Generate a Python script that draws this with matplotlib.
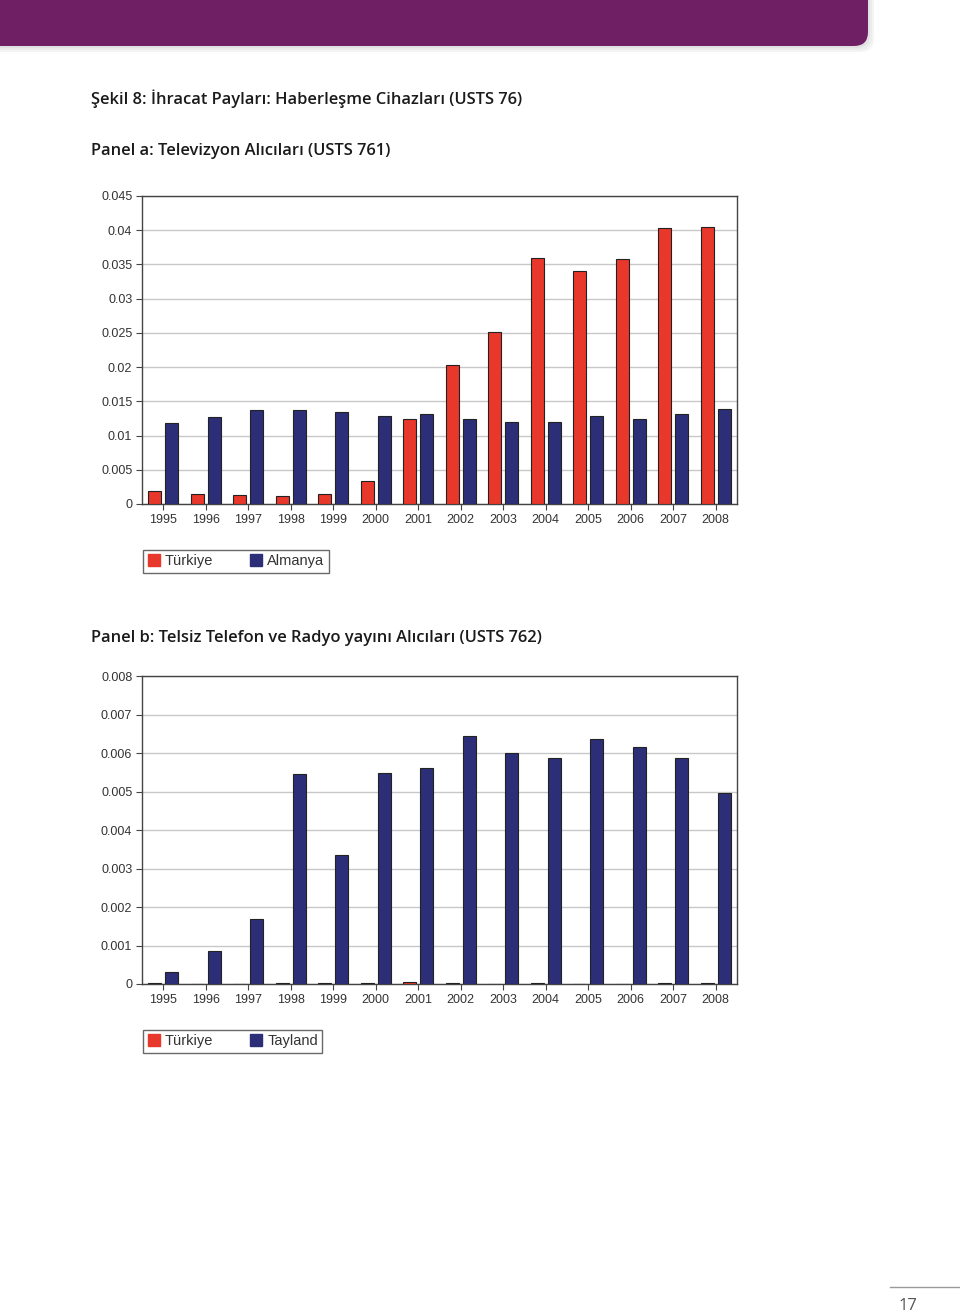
import matplotlib.pyplot as plt
import numpy as np
from matplotlib.patches import FancyBboxPatch
from matplotlib.lines import Line2D

years = ['1995', '1996', '1997', '1998', '1999', '2000', '2001',
         '2002', '2003', '2004', '2005', '2006', '2007', '2008']

# Panel a: Televizyon Alıcıları
turkiye_a = [0.0019, 0.0015, 0.0013, 0.0011, 0.0015, 0.0033, 0.0124,
             0.0203, 0.0252, 0.0360, 0.0340, 0.0358, 0.0403, 0.0404]
almanya_a = [0.0118, 0.0127, 0.0137, 0.0137, 0.0134, 0.0129, 0.0132,
             0.0124, 0.0120, 0.0120, 0.0129, 0.0124, 0.0132, 0.0139]

# Panel b: Telsiz Telefon ve Radyo yayını Alıcıları
turkiye_b = [0.00002, 0.0, 0.0, 0.00002, 0.00002, 0.00002, 0.00006,
             0.00003, 0.0, 0.00003, 0.0, 0.0, 0.00003, 0.00003]
tayland_b = [0.0003, 0.00087, 0.0017, 0.00545, 0.00335, 0.00548, 0.00561,
             0.00645, 0.0060, 0.00588, 0.00636, 0.00615, 0.00586, 0.00495]

ticks_a = [0, 0.005, 0.01, 0.015, 0.02, 0.025, 0.03, 0.035, 0.04, 0.045]
ticklabels_a = ['0', '0.005', '0.01', '0.015', '0.02', '0.025', '0.03', '0.035', '0.04', '0.045']
ticks_b = [0, 0.001, 0.002, 0.003, 0.004, 0.005, 0.006, 0.007, 0.008]
ticklabels_b = ['0', '0.001', '0.002', '0.003', '0.004', '0.005', '0.006', '0.007', '0.008']

RED = '#e8372b'
BLUE = '#2c2f78'
W, H = 960, 1316

fig = plt.figure(figsize=(9.6, 13.16), dpi=100)

# purple banner at the top, with a soft shadow
for i, c in enumerate(['#f4f4f4', '#ececec', '#e2e2e2']):
    off = 6 - 2 * i
    fig.patches.append(FancyBboxPatch((-30, H - 46 - off), 898 + off, 80,
                                      boxstyle='round,pad=0,rounding_size=14', transform=None,
                                      facecolor=c, edgecolor='none', zorder=0))
fig.patches.append(FancyBboxPatch((-30, H - 46), 898, 80, boxstyle='round,pad=0,rounding_size=14',
                                  transform=None, facecolor='#6f1f63', edgecolor='none', zorder=1))

head = dict(family=['Open Sans', 'DejaVu Sans'], fontweight='semibold', fontsize=11.9,
            color='#1a1a1a', va='center', ha='left')
fig.text(91 / W, 1 - 99 / H, 'Şekil 8: İhracat Payları: Haberleşme Cihazları (USTS 76)', **head)
fig.text(91 / W, 1 - 151 / H, 'Panel a: Televizyon Alıcıları (USTS 761)', **head)
fig.text(91 / W, 1 - 638 / H, 'Panel b: Telsiz Telefon ve Radyo yayını Alıcıları (USTS 762)', **head)


def draw_panel(top, red_vals, blue_vals, ticks, ticklabels, ymax, blue_name, leg_top):
    ax = fig.add_axes([142 / W, 1 - (top + 308) / H, 595 / W, 308 / H])
    x = np.arange(len(years))
    ax.bar(x - 0.2, red_vals, width=0.3, color=RED, edgecolor='#222222', linewidth=0.8, zorder=3)
    ax.bar(x + 0.2, blue_vals, width=0.3, color=BLUE, edgecolor='#222222', linewidth=0.8, zorder=3)
    ax.set_xlim(-0.5, len(years) - 0.5)
    ax.set_ylim(0, ymax)
    ax.set_xticks(x)
    ax.set_xticklabels(years)
    ax.set_yticks(ticks)
    ax.set_yticklabels(ticklabels)
    ax.yaxis.grid(True, color='#c8c8c8', linewidth=1.0, zorder=0)
    ax.set_axisbelow(True)
    for s in ax.spines.values():
        s.set_color('#444444')
        s.set_linewidth(1.0)
    ax.tick_params(axis='both', length=4, width=0.8, color='#444444', labelcolor='#333333',
                   labelsize=9, pad=3)
    for lab in ax.get_xticklabels() + ax.get_yticklabels():
        lab.set_family(['Liberation Sans', 'DejaVu Sans'])
    handles = [Line2D([], [], marker='s', linestyle='none', markersize=8,
                      markerfacecolor=RED, markeredgecolor=RED),
               Line2D([], [], marker='s', linestyle='none', markersize=8,
                      markerfacecolor=BLUE, markeredgecolor=BLUE)]
    leg = ax.legend(handles, ['Türkiye', blue_name], ncol=2, loc='upper left',
                    bbox_to_anchor=(143 / W, 1 - leg_top / H), bbox_transform=fig.transFigure,
                    frameon=True, fancybox=False, borderaxespad=0, handlelength=0.9,
                    handletextpad=0.3, columnspacing=2.5, borderpad=0.3,
                    prop={'family': ['Liberation Sans', 'DejaVu Sans'], 'size': 10.5})
    leg.get_frame().set_edgecolor('#444444')
    leg.get_frame().set_linewidth(1.0)
    for t in leg.get_texts():
        t.set_color('#333333')
    return ax


draw_panel(196, turkiye_a, almanya_a, ticks_a, ticklabels_a, 0.045, 'Almanya', 550)
draw_panel(676, turkiye_b, tayland_b, ticks_b, ticklabels_b, 0.008, 'Tayland', 1030)

# page number
fig.add_artist(Line2D([890 / W, 1.0], [1 - 1287 / H, 1 - 1287 / H], color='#9a9a9a', linewidth=1.0))
fig.text(908 / W, 1 - 1306 / H, '17', fontsize=12, color='#555555', va='center', ha='center',
         family=['Open Sans', 'DejaVu Sans'])

fig.savefig('out.png', dpi=100, facecolor='white')
